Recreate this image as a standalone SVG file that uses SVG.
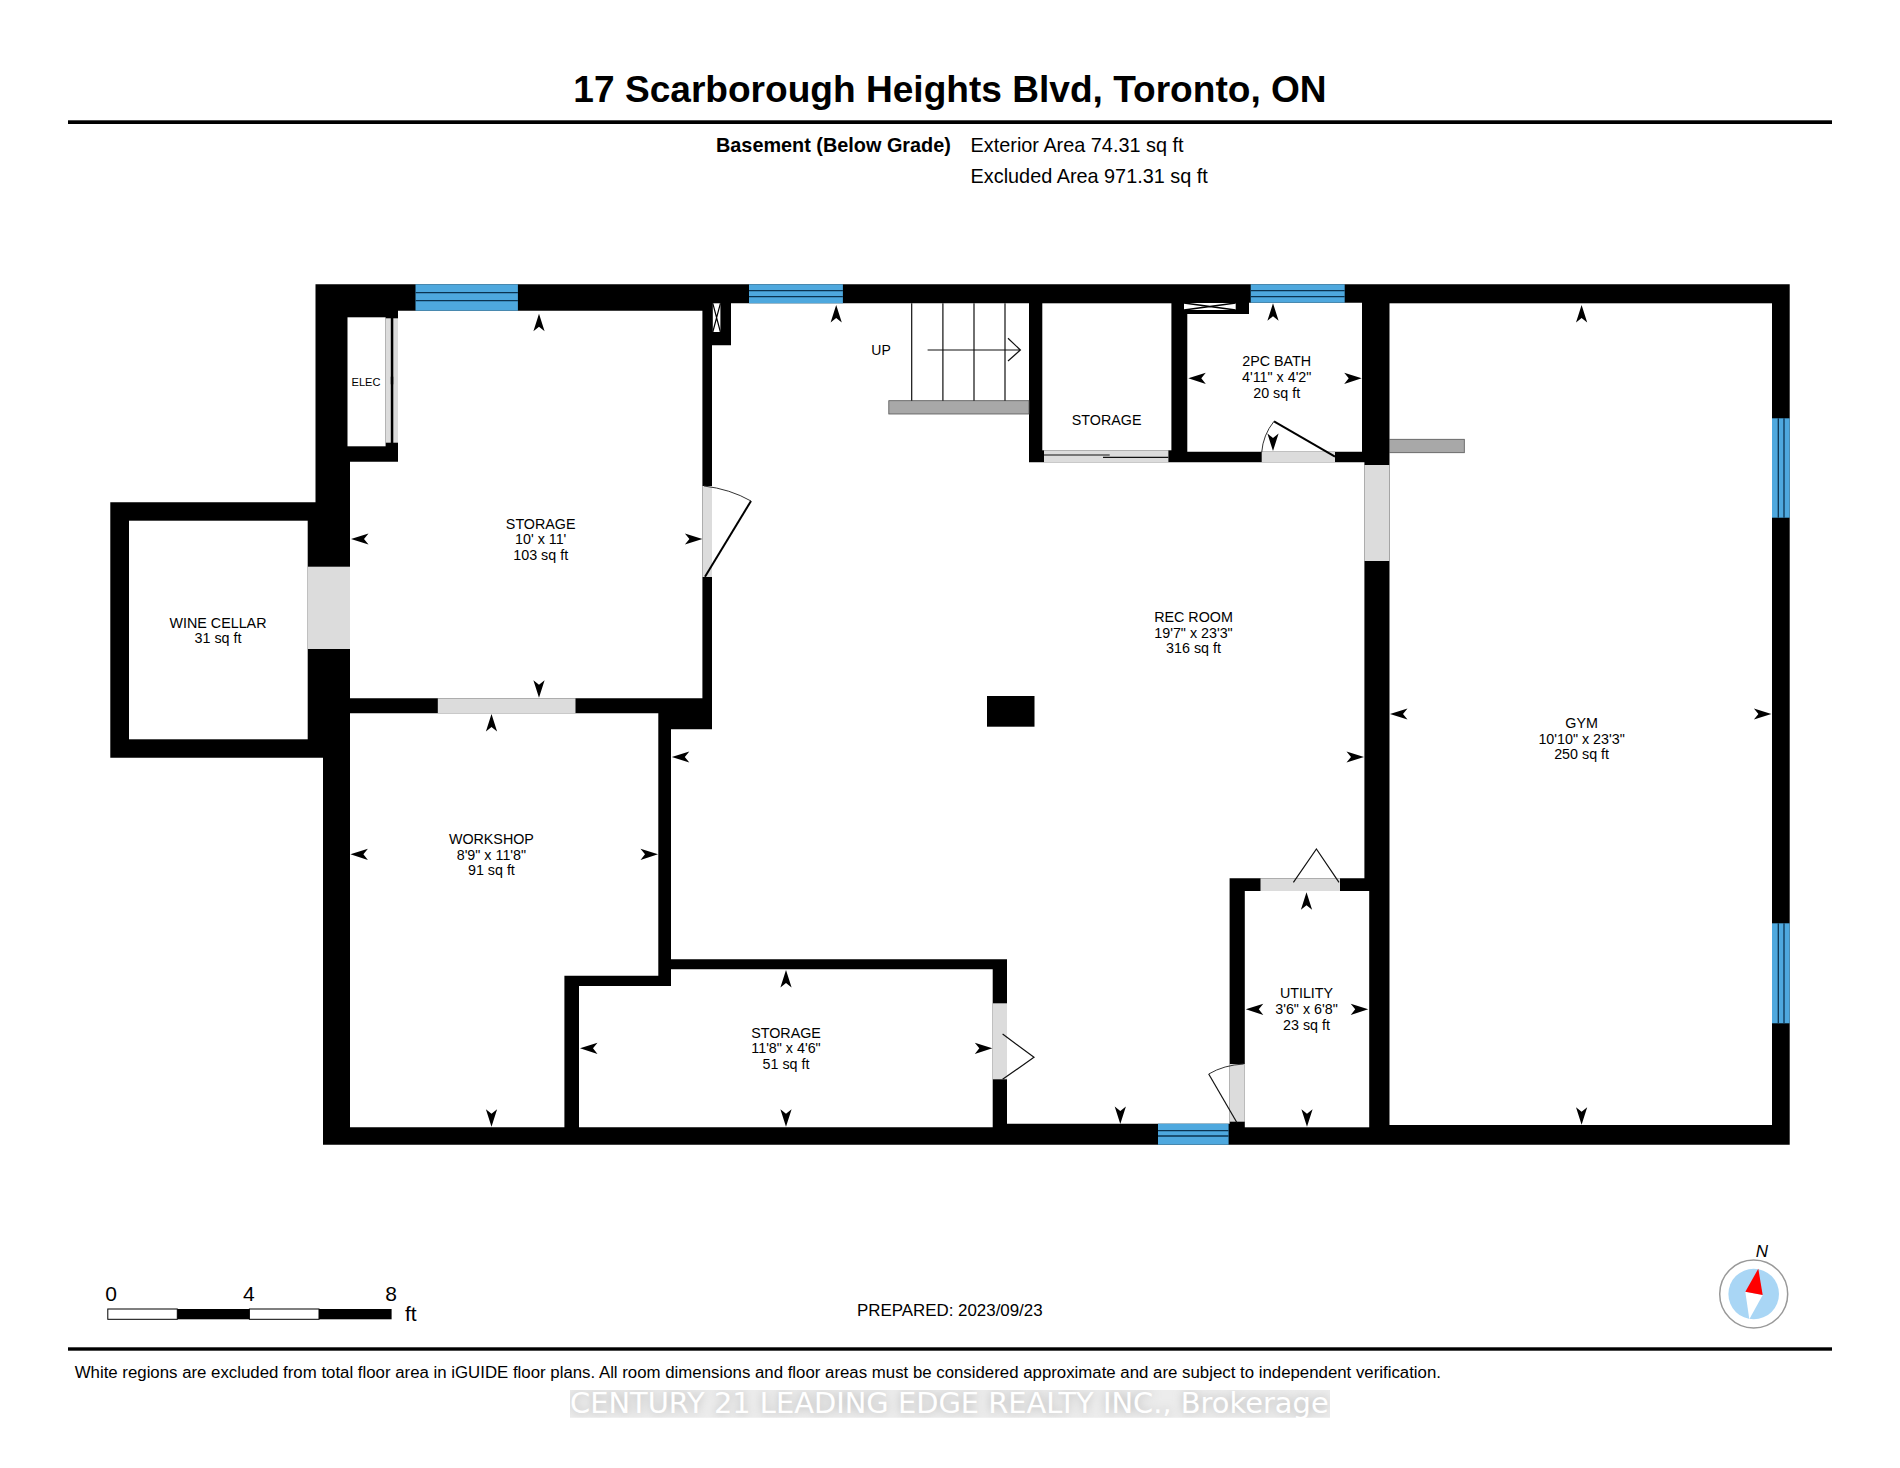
<svg xmlns="http://www.w3.org/2000/svg" width="1900" height="1468" viewBox="0 0 1900 1468">
<style>
text{font-family:"Liberation Sans",Arial,sans-serif;fill:#000}
.room{font-size:14.3px;text-anchor:middle}
.info{font-size:19.85px}
.scale{font-size:21px}
.room-fill{fill:#fff}
.door{fill:#dcdcdc}
.win{fill:#4ea8de}
.winline{stroke:#0b3350;stroke-width:1.3;fill:none}
.leaf{stroke:#000;stroke-width:2;fill:none}
.arc{stroke:#333;stroke-width:1;fill:none}
.thin{stroke:#111;stroke-width:1.2;fill:none}
.ledge{fill:#a8a8a8;stroke:#555;stroke-width:.8}
</style>
<defs>
<path id="dart" d="M0,0 L5.6,17.5 L0,13 L-5.6,17.5 Z" fill="#000"/>
<filter id="halo" x="-5%" y="-50%" width="110%" height="200%"><feGaussianBlur stdDeviation="5"/></filter>
<clipPath id="wmclip"><rect x="570" y="1390" width="760" height="27.7"/></clipPath>
</defs>
<rect width="1900" height="1468" fill="#fff"/>

<g id="header">
<text x="950" y="102" font-size="37.1" font-weight="700" text-anchor="middle">17 Scarborough Heights Blvd, Toronto, ON</text>
<rect x="68" y="120.3" width="1764" height="3.7" fill="#000"/>
<text class="info" x="716" y="152" font-weight="700">Basement (Below Grade)</text>
<text class="info" x="970.6" y="152">Exterior Area 74.31 sq ft</text>
<text class="info" x="970.6" y="183">Excluded Area 971.31 sq ft</text>
</g>

<g id="walls">
<path fill="#000" d="M315.5,284.3H1789.7V1144.7H323V757.7H110.3V502.3H315.5Z"/>
</g>

<g id="wine-cellar">
<rect class="room-fill" x="129" y="520.7" width="178.7" height="218.6"/>
<text class="room" x="218" y="627.8">WINE CELLAR</text>
<text class="room" x="218" y="643.4">31 sq ft</text>
</g>

<g id="elec">
<rect class="room-fill" x="347.5" y="317.3" width="38.1" height="129"/>
<text x="366" y="386" font-size="11.1" text-anchor="middle">ELEC</text>
<rect class="door" x="385.6" y="318.3" width="5.2" height="124.4"/>
<rect class="door" x="393.3" y="318.3" width="4.7" height="124.4"/>
<rect x="391.5" y="318.3" width="1.2" height="124.4" fill="#000"/>
<rect x="390.8" y="376.7" width="2.4" height="7.6" fill="#000"/>
</g>

<g id="storage-1">
<path class="room-fill" d="M398,310.7H702.4V698.3H350V461.7H398Z"/>
<text class="room" x="540.7" y="528.8">STORAGE</text>
<text class="room" x="540.7" y="544.4">10' x 11'</text>
<text class="room" x="540.7" y="560">103 sq ft</text>
</g>

<g id="workshop">
<path class="room-fill" d="M350,713.3H658.3V975.7H564.4V1127.3H350Z"/>
<text class="room" x="491.4" y="843.8">WORKSHOP</text>
<text class="room" x="491.4" y="859.7">8'9" x 11'8"</text>
<text class="room" x="491.4" y="875">91 sq ft</text>
</g>

<g id="storage-3">
<path class="room-fill" d="M671,969.3H992.7V1127.3H579V986H671Z"/>
<text class="room" x="786" y="1037.8">STORAGE</text>
<text class="room" x="786" y="1053.4">11'8" x 4'6"</text>
<text class="room" x="786" y="1069">51 sq ft</text>
</g>

<g id="rec-room">
<path class="room-fill" d="M712,345.3H731V303.3H1029V462.3H1364.4V878.3H1229.6V1123.7H1007V959.3H671V729.3H712Z"/>
<rect x="987" y="696" width="47.5" height="30.7" fill="#000"/>
<text class="room" x="1193.5" y="622">REC ROOM</text>
<text class="room" x="1193.5" y="637.5">19'7" x 23'3"</text>
<text class="room" x="1193.5" y="653">316 sq ft</text>
</g>

<g id="storage-2">
<rect class="room-fill" x="1042.3" y="303.3" width="129.1" height="147"/>
<text class="room" x="1106.6" y="425">STORAGE</text>
<rect class="door" x="1044" y="450.3" width="124.4" height="12"/>
<path class="thin" d="M1044,455H1109.7M1103,457.3H1168.4" stroke-width="1.5"/>
</g>

<g id="bath">
<path class="room-fill" d="M1187.3,314H1249V302.7H1362V451.7H1187.3Z"/>
<text class="room" x="1276.7" y="366">2PC BATH</text>
<text class="room" x="1276.7" y="382">4'11" x 4'2"</text>
<text class="room" x="1276.7" y="398">20 sq ft</text>
<rect class="door" x="1261.7" y="452" width="73.3" height="10.3"/>
<path class="leaf" d="M1335,456.7L1274,421.3"/>
<path class="arc" d="M1261.7,452.3Q1263,435 1274,421.3"/>
</g>

<g id="utility">
<rect class="room-fill" x="1244.8" y="891" width="124.4" height="236.3"/>
<text class="room" x="1306.5" y="998.4">UTILITY</text>
<text class="room" x="1306.5" y="1014.4">3'6" x 6'8"</text>
<text class="room" x="1306.5" y="1029.8">23 sq ft</text>
<rect class="door" x="1260.5" y="878.3" width="79.5" height="12.7"/>
<rect class="door" x="1229.6" y="1064" width="15.2" height="57.7"/>
<path class="thin" d="M1293.4,882.3L1316.4,849L1339,882.3"/>
<path class="thin" d="M1237,1122.7L1208.7,1074"/>
<path class="arc" d="M1208.7,1074Q1224,1065 1243.7,1064"/>
</g>

<g id="gym">
<rect class="room-fill" x="1389.5" y="303.3" width="382.5" height="821.7"/>
<text class="room" x="1581.6" y="728.4">GYM</text>
<text class="room" x="1581.6" y="744.1">10'10" x 23'3"</text>
<text class="room" x="1581.6" y="759.4">250 sq ft</text>
<rect class="ledge" x="1389.5" y="439.3" width="74.8" height="13.4"/>
</g>

<g id="stairs">
<rect class="ledge" x="888.8" y="400.7" width="140.2" height="13.3"/>
<path class="thin" d="M911.7,303.3V400.7M942.9,303.3V400.7M974,303.3V400.7M1005,303.3V400.7"/>
<path class="thin" d="M927.6,350H1020.4M1008,338.3L1020.4,350L1008,361"/>
<text x="881" y="354.5" font-size="14" text-anchor="middle">UP</text>
</g>

<g id="doors">
<rect class="door" x="307.7" y="566.7" width="42.3" height="82.3"/>
<rect class="door" x="437.8" y="698.3" width="137.7" height="15"/>
<rect class="door" x="702.4" y="486" width="9.6" height="91"/>
<path class="leaf" d="M751,501L705,576.7"/>
<path class="arc" d="M704,486Q730,489 751,501"/>
<rect class="door" x="1364.4" y="465" width="25" height="96"/>
<rect class="door" x="992.7" y="1003.3" width="14.3" height="76"/>
<path class="thin" d="M1002.6,1034L1034,1057.3L1002.6,1079.3"/>
</g>

<g id="vents">
<rect x="712.8" y="303.3" width="7.6" height="28.7" fill="#fff"/>
<path d="M712.8,303.3L720.4,332M720.4,303.3L712.8,332" stroke="#000" stroke-width="1.2"/>
<rect x="1184" y="303" width="51.7" height="7" fill="#fff"/>
<path d="M1184,303L1235.7,310M1235.7,303L1184,310" stroke="#000" stroke-width="1.5"/>
</g>

<g id="windows">
<rect class="win" x="415.5" y="284.3" width="102.4" height="26.4"/>
<path class="winline" d="M415.5,292.7H517.9M415.5,300.7H517.9"/>
<rect class="win" x="749" y="284.3" width="93.9" height="19"/>
<path class="winline" d="M749,290.7H842.9M749,296.7H842.9"/>
<rect class="win" x="1250.7" y="284.3" width="94" height="18.4"/>
<path class="winline" d="M1250.7,290.7H1344.7M1250.7,296.7H1344.7"/>
<rect class="win" x="1772" y="418.3" width="17.7" height="99.4"/>
<path class="winline" d="M1778.3,418.3V517.7M1784,418.3V517.7"/>
<rect class="win" x="1772" y="923.3" width="17.7" height="100"/>
<path class="winline" d="M1778.3,923.3V1023.3M1784,923.3V1023.3"/>
<rect class="win" x="1158" y="1123.7" width="70.6" height="21"/>
<path class="winline" d="M1158,1130.7H1228.6M1158,1136H1228.6"/>
</g>

<g id="dimension-arrows">
<use href="#dart" transform="translate(539,313.7)"/>
<use href="#dart" transform="translate(351,539) rotate(-90)"/>
<use href="#dart" transform="translate(702.4,539) rotate(90)"/>
<use href="#dart" transform="translate(539,697.7) rotate(180)"/>
<use href="#dart" transform="translate(491.5,714)"/>
<use href="#dart" transform="translate(350.4,854.3) rotate(-90)"/>
<use href="#dart" transform="translate(658,854.3) rotate(90)"/>
<use href="#dart" transform="translate(491.5,1126.7) rotate(180)"/>
<use href="#dart" transform="translate(836.2,305)"/>
<use href="#dart" transform="translate(671.8,757) rotate(-90)"/>
<use href="#dart" transform="translate(1364,757) rotate(90)"/>
<use href="#dart" transform="translate(1120.3,1124) rotate(180)"/>
<use href="#dart" transform="translate(786,970)"/>
<use href="#dart" transform="translate(580,1048.3) rotate(-90)"/>
<use href="#dart" transform="translate(992.3,1048.3) rotate(90)"/>
<use href="#dart" transform="translate(786,1126.7) rotate(180)"/>
<use href="#dart" transform="translate(1306.5,892.3)"/>
<use href="#dart" transform="translate(1245.8,1009.3) rotate(-90)"/>
<use href="#dart" transform="translate(1368.2,1009.3) rotate(90)"/>
<use href="#dart" transform="translate(1307,1126.7) rotate(180)"/>
<use href="#dart" transform="translate(1581.6,305)"/>
<use href="#dart" transform="translate(1390,714) rotate(-90)"/>
<use href="#dart" transform="translate(1771.4,714) rotate(90)"/>
<use href="#dart" transform="translate(1581.6,1124.7) rotate(180)"/>
<use href="#dart" transform="translate(1273,303.3)"/>
<use href="#dart" transform="translate(1188.3,378.3) rotate(-90)"/>
<use href="#dart" transform="translate(1361.7,378.3) rotate(90)"/>
<use href="#dart" transform="translate(1273,451) rotate(180)"/>
</g>

<g id="scale-bar">
<rect x="107.8" y="1309" width="69.5" height="10.3" fill="#fff" stroke="#000" stroke-width="1"/>
<rect x="177.3" y="1309" width="72.1" height="10.3" fill="#000"/>
<rect x="249.4" y="1309" width="69.6" height="10.3" fill="#fff" stroke="#000" stroke-width="1"/>
<rect x="319" y="1309" width="72.6" height="10.3" fill="#000"/>
<text class="scale" x="111" y="1300.7" text-anchor="middle">0</text>
<text class="scale" x="248.8" y="1300.7" text-anchor="middle">4</text>
<text class="scale" x="391" y="1300.7" text-anchor="middle">8</text>
<text class="scale" x="405" y="1321">ft</text>
</g>

<g id="prepared">
<text x="857" y="1316" font-size="16.9">PREPARED: 2023/09/23</text>
</g>

<g id="compass">
<circle cx="1753.7" cy="1294" r="34" fill="#fff" stroke="#999" stroke-width="1.5"/>
<circle cx="1753.7" cy="1294" r="25.3" fill="#a9d6f5"/>
<path d="M1745.3,1291.7L1762.7,1295L1749.3,1319.3Z" fill="#fff"/>
<path d="M1758.3,1268.7L1745.3,1291.7L1762.7,1295Z" fill="#f00"/>
<text x="1762" y="1257.3" font-size="17" font-style="italic" text-anchor="middle">N</text>
</g>

<g id="footer">
<rect x="68" y="1347.3" width="1764" height="3.4" fill="#000"/>
<text x="74.7" y="1378" font-size="16.82">White regions are excluded from total floor area in iGUIDE floor plans. All room dimensions and floor areas must be considered approximate and are subject to independent verification.</text>
</g>

<g id="watermark">
<rect x="570" y="1390" width="760" height="27.7" fill="#ececec"/>
<g clip-path="url(#wmclip)">
<text x="570" y="1412.5" font-size="28.9" style="font-family:'DejaVu Sans',sans-serif;fill:#b0b0b0" filter="url(#halo)">CENTURY 21 LEADING EDGE REALTY INC., Brokerage</text>
</g>
<text x="570" y="1412.5" font-size="28.9" style="font-family:'DejaVu Sans',sans-serif;fill:#fff">CENTURY 21 LEADING EDGE REALTY INC., Brokerage</text>
</g>
</svg>
